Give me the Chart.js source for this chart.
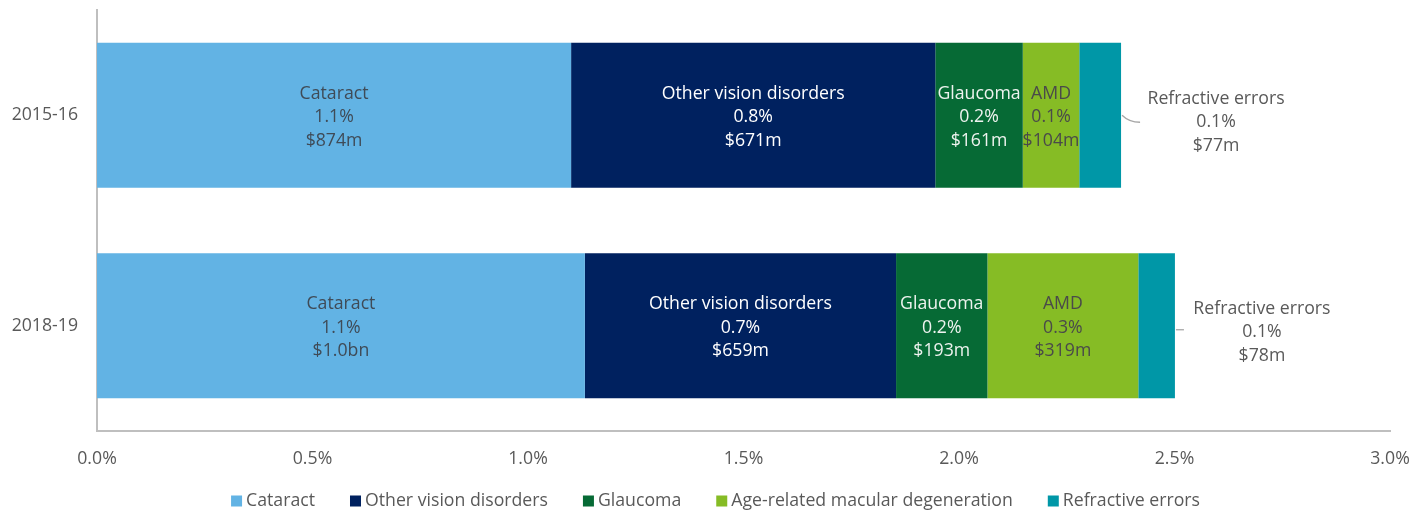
<!DOCTYPE html>
<html>
<head>
<meta charset="utf-8">
<script src="https://cdn.jsdelivr.net/npm/chart.js@4.4.1/dist/chart.umd.min.js"></script>
<style>
  html, body { margin: 0; padding: 0; background: #fff; }
  #wrap { width: 1427px; height: 511px; position: relative; }
</style>
</head>
<body>
<div id="wrap"><canvas id="c" width="1427" height="511"></canvas></div>
<script>
// ---- Data ----
const categories = ['2015-16', '2018-19'];
const seriesNames = ['Cataract', 'Other vision disorders', 'Glaucoma', 'Age-related macular degeneration', 'Refractive errors'];
const shortNames = ['Cataract', 'Other vision disorders', 'Glaucoma', 'AMD', 'Refractive errors'];

const cataract   = [1.100, 1.132];
const otherVision = [0.845, 0.722];
const glaucoma   = [0.203, 0.212];
const amd        = [0.131, 0.350];
const refractive = [0.097, 0.085];

const cataractPct   = ['1.1%', '1.1%'];
const otherPct      = ['0.8%', '0.7%'];
const glaucomaPct   = ['0.2%', '0.2%'];
const amdPct        = ['0.1%', '0.3%'];
const refractivePct = ['0.1%', '0.1%'];

const cataractCost   = ['$874m', '$1.0bn'];
const otherCost      = ['$671m', '$659m'];
const glaucomaCost   = ['$161m', '$193m'];
const amdCost        = ['$104m', '$319m'];
const refractiveCost = ['$77m', '$78m'];

const xTickValues = [0, 0.5, 1.0, 1.5, 2.0, 2.5, 3.0];

// ---- Styles ----
const colors = ['#62B3E4', '#00215F', '#066A35', '#86BC25', '#0097A7'];
const labelColors = ['#3F4B57', '#FFFFFF', '#EEF3EF', '#4A4A4A', '#595959'];
const FONT = '"Open Sans", "Noto Sans", sans-serif';
const FS = 17.7;

const seriesValues = [cataract, otherVision, glaucoma, amd, refractive];
const seriesPct = [cataractPct, otherPct, glaucomaPct, amdPct, refractivePct];
const seriesCost = [cataractCost, otherCost, glaucomaCost, amdCost, refractiveCost];

const datasets = seriesNames.map((name, i) => ({
  label: name,
  data: seriesValues[i],
  backgroundColor: colors[i],
  borderWidth: 0,
  categoryPercentage: 1.0,
  barPercentage: 0.69
}));

const barLabels = {
  id: 'barLabels',
  afterDatasetsDraw(chart) {
    const ctx = chart.ctx;
    ctx.save();
    ctx.font = FS + 'px ' + FONT;
    ctx.textAlign = 'center';
    ctx.textBaseline = 'middle';
    const lh = 23.5;
    chart.data.datasets.forEach((ds, di) => {
      const meta = chart.getDatasetMeta(di);
      meta.data.forEach((bar, i) => {
        const lines = [shortNames[di], seriesPct[di][i], seriesCost[di][i]];
        const left = Math.min(bar.x, bar.base), right = Math.max(bar.x, bar.base);
        let cx = (left + right) / 2;
        let cy = bar.y + 2;
        if (di === seriesNames.length - 1) {
          const off = i === 0 ? 95 : 87;
          cx = right + off;
          cy = bar.y + (i === 0 ? 7 : 6.5);
          ctx.strokeStyle = '#A6A6A6';
          ctx.lineWidth = 1.3;
          ctx.beginPath();
          if (i === 0) {
            ctx.moveTo(right + 1, bar.y);
            ctx.quadraticCurveTo(right + 8, bar.y + 7, right + 19, bar.y + 7);
          } else {
            ctx.moveTo(right + 1, bar.y + 4);
            ctx.lineTo(right + 9, bar.y + 4);
          }
          ctx.stroke();
        }
        ctx.fillStyle = labelColors[di];
        lines.forEach((t, k) => ctx.fillText(t, cx, cy + (k - 1) * lh));
      });
    });
    ctx.restore();
  }
};

const customLegend = {
  id: 'customLegend',
  afterDraw(chart) {
    const ctx = chart.ctx;
    ctx.save();
    ctx.font = FS + 'px ' + FONT;
    ctx.textBaseline = 'middle';
    ctx.textAlign = 'left';
    const box = 11, gapBoxText = 4, gapItems = 35;
    const widths = seriesNames.map(n => box + gapBoxText + ctx.measureText(n).width);
    const total = widths.reduce((a, b) => a + b, 0) + gapItems * (widths.length - 1);
    let x = (chart.width - total) / 2 + 2;
    const y = 501;
    seriesNames.forEach((n, i) => {
      ctx.fillStyle = colors[i];
      ctx.fillRect(x, y - box / 2, box, box);
      ctx.fillStyle = '#595959';
      ctx.fillText(n, x + box + gapBoxText, y);
      x += widths[i] + gapItems;
    });
    ctx.restore();
  }
};

new Chart(document.getElementById('c'), {
  type: 'bar',
  data: { labels: categories, datasets },
  plugins: [barLabels, customLegend],
  options: {
    indexAxis: 'y',
    responsive: false,
    animation: false,
    layout: { padding: { top: 10, right: 37, bottom: 0, left: 0 } },
    plugins: { legend: { display: false }, tooltip: { enabled: false } },
    scales: {
      x: {
        stacked: true,
        min: 0, max: 3,
        afterBuildTicks(scale) { scale.ticks = xTickValues.map(v => ({ value: v })); },
        afterFit(scale) { scale.height = 80; scale.paddingLeft = 0; scale.paddingRight = 0; },
        grid: { display: false, drawTicks: false },
        border: { display: true, color: '#BFBFBF', width: 2 },
        ticks: {
          padding: 17,
          color: '#595959',
          font: { family: FONT, size: FS },
          maxRotation: 0,
          callback: v => Number(v).toFixed(1) + '%'
        }
      },
      y: {
        stacked: true,
        afterFit(scale) { scale.width = 97; scale.paddingTop = 0; scale.paddingBottom = 0; },
        grid: { display: false, drawTicks: false },
        border: { display: true, color: '#BFBFBF', width: 2 },
        ticks: {
          padding: 19,
          color: '#595959',
          font: { family: FONT, size: FS }
        }
      }
    }
  }
});
</script>
</body>
</html>
